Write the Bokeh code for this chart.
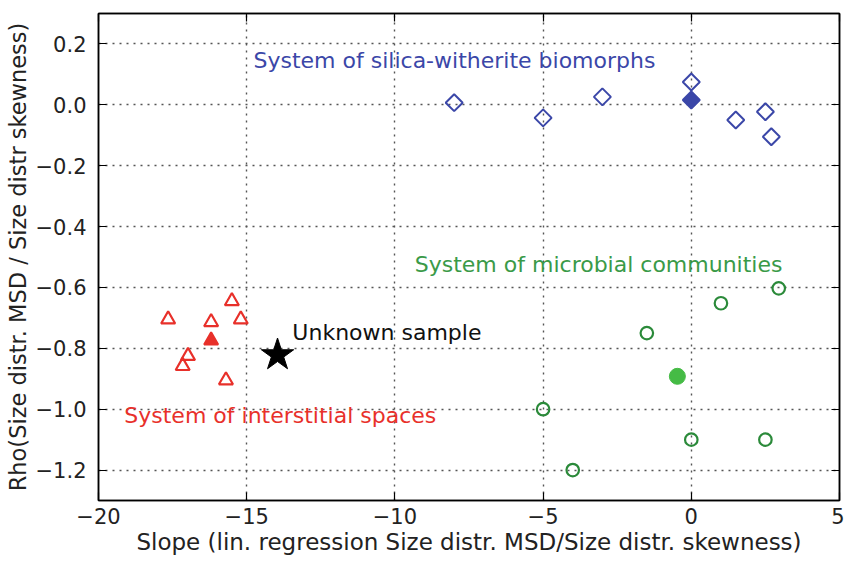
from bokeh.plotting import figure
from bokeh.models import Range1d, FixedTicker, LinearAxis, Label, CustomJSTickFormatter
from bokeh.embed import file_html
from bokeh.resources import INLINE
import numpy as np

# ---- data ----
silica_x = [-8.0, -5.0, -3.0, 0.0, 1.5, 2.5, 2.7]
silica_y = [0.007, -0.043, 0.026, 0.075, -0.05, -0.023, -0.105]
silica_fill_x = [0.0]
silica_fill_y = [0.016]

microbial_x = [-5.0, -4.0, -1.5, 1.0, 2.95, 0.0, 2.5]
microbial_y = [-1.0, -1.2, -0.75, -0.652, -0.603, -1.1, -1.1]
microbial_fill_x = [-0.47]
microbial_fill_y = [-0.892]

inter_x = [-17.65, -16.2, -15.2, -15.5, -16.98, -17.16, -15.7]
inter_y = [-0.705, -0.714, -0.705, -0.645, -0.825, -0.858, -0.905]
inter_fill_x = [-16.2]
inter_fill_y = [-0.774]

unknown_x = [-13.96]
unknown_y = [-0.822]

x_ticks = [-20, -15, -10, -5, 0, 5]
x_tick_labels = ["\u221220", "\u221215", "\u221210", "\u22125", "0", "5"]
y_ticks = [0.2, 0.0, -0.2, -0.4, -0.6, -0.8, -1.0, -1.2]
y_tick_labels = ["0.2", "0.0", "\u22120.2", "\u22120.4", "\u22120.6", "\u22120.8", "\u22121.0", "\u22121.2"]

BLUE = "#3b47a8"
RED = "#e8302a"
GREEN = "#2b8a3a"
GREEN_TXT = "#3a9a48"
GREEN_FILL = "#45bb45"
FONT = "DejaVu Sans"

p = figure(width=844, height=565, output_backend="svg", toolbar_location=None,
           x_range=Range1d(-20, 5), y_range=Range1d(-1.3, 0.3),
           min_border_left=98, min_border_right=5, min_border_top=13, min_border_bottom=65)
p.background_fill_color = "white"
p.border_fill_color = "white"
p.outline_line_color = "black"
p.outline_line_width = 1.5

for ax, ticks, labels in ((p.xaxis[0], x_ticks, x_tick_labels), (p.yaxis[0], y_ticks, y_tick_labels)):
    ax.ticker = FixedTicker(ticks=ticks)
    ax.major_label_overrides = {float(t): l for t, l in zip(ticks, labels)}
    ax.major_tick_in = 8
    ax.major_tick_out = 0
    ax.minor_tick_in = 0
    ax.minor_tick_out = 0
    ax.axis_line_color = "black"
    ax.axis_line_width = 1.5
    ax.major_tick_line_width = 1.2
    ax.major_label_text_font = FONT
    ax.major_label_text_font_size = "21px"
    ax.major_label_text_color = "#222222"
    ax.axis_label_text_font = FONT
    ax.axis_label_text_font_size = "22.5px"
    ax.axis_label_text_font_style = "normal"
    ax.axis_label_text_color = "#222222"

p.xaxis[0].axis_label = "Slope (lin. regression Size distr. MSD/Size distr. skewness)"
p.yaxis[0].axis_label = "Rho(Size distr. MSD / Size distr skewness)"
p.xaxis[0].axis_label_text_font_size = "23px"
p.xaxis[0].major_label_standoff = 7
p.xaxis[0].axis_label_standoff = 2
p.yaxis[0].major_label_standoff = 12
p.yaxis[0].axis_label_standoff = 2

blank = CustomJSTickFormatter(code="return ''")
top = LinearAxis(ticker=FixedTicker(ticks=x_ticks), formatter=blank, major_tick_in=8, major_tick_out=0,
                 minor_tick_in=0, minor_tick_out=0, major_label_standoff=0,
                 major_label_text_font_size="1px", axis_line_color="black", axis_line_width=1.5,
                 major_tick_line_width=1.2)
right = LinearAxis(ticker=FixedTicker(ticks=y_ticks), formatter=blank, major_tick_in=8, major_tick_out=0,
                   minor_tick_in=0, minor_tick_out=0, major_label_standoff=0,
                   major_label_text_font_size="1px", axis_line_color="black", axis_line_width=1.5,
                   major_tick_line_width=1.2)
p.add_layout(top, "above")
p.add_layout(right, "right")

p.xgrid.ticker = FixedTicker(ticks=x_ticks)
p.ygrid.ticker = FixedTicker(ticks=y_ticks)
for g in (p.xgrid[0], p.ygrid[0]):
    g.grid_line_color = "#555555"
    g.grid_line_width = 1.4
    g.grid_line_dash = "2 5"

# silica-witherite biomorphs
p.scatter(silica_x, silica_y, marker="square", size=12, angle=np.pi / 4,
          fill_color=None, line_color=BLUE, line_width=2)
p.scatter(silica_fill_x, silica_fill_y, marker="square", size=12, angle=np.pi / 4,
          fill_color=BLUE, line_color=BLUE, line_width=2)

# microbial communities
p.scatter(microbial_x, microbial_y, marker="circle", size=12.5,
          fill_color=None, line_color=GREEN, line_width=2.2)
p.scatter(microbial_fill_x, microbial_fill_y, marker="circle", size=16,
          fill_color=GREEN_FILL, line_color=GREEN_FILL, line_width=1)

# interstitial spaces
p.scatter(inter_x, inter_y, marker="triangle", size=14,
          fill_color=None, line_color=RED, line_width=2.2)
p.scatter(inter_fill_x, inter_fill_y, marker="triangle", size=14,
          fill_color=RED, line_color=RED, line_width=2)

# unknown sample
p.scatter(unknown_x, unknown_y, marker="star", size=34,
          fill_color="black", line_color="black", line_width=1)

labels = [
    ("System of silica-witherite biomorphs", -14.77, 0.144, BLUE),
    ("System of microbial communities", -9.33, -0.525, GREEN_TXT),
    ("Unknown sample", -13.46, -0.748, "#111111"),
    ("System of interstitial spaces", -19.13, -1.02, RED),
]
for txt, lx, ly, col in labels:
    p.add_layout(Label(x=lx, y=ly, text=txt, text_color=col, text_font=FONT,
                       text_font_size="22px", text_baseline="middle", text_align="left"))

open("out.html", "w").write(file_html(p, INLINE))
